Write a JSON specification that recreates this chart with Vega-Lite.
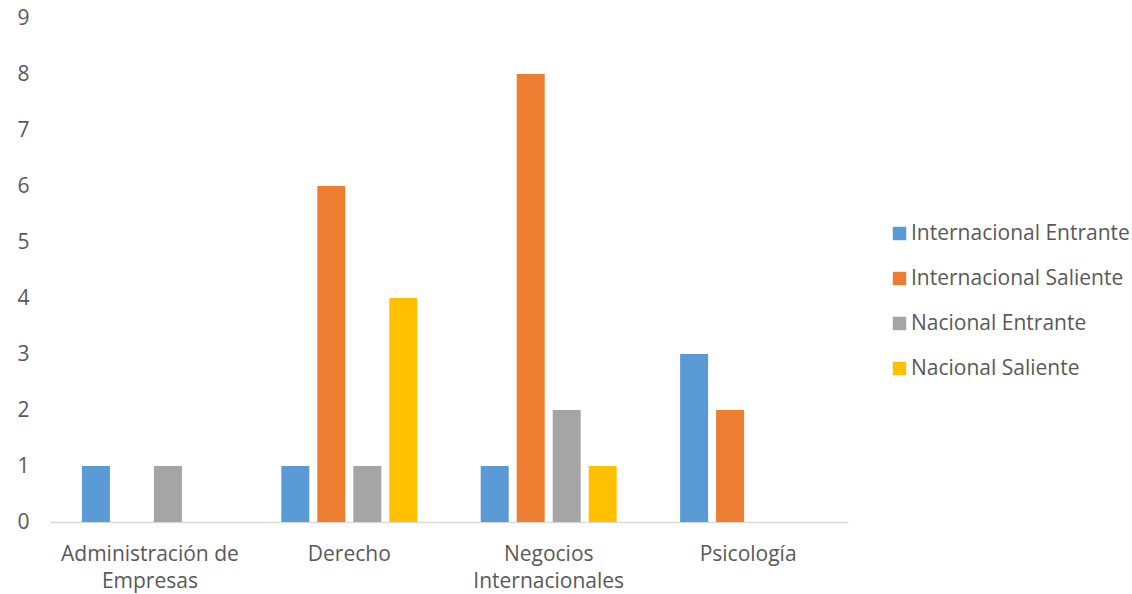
{
  "$schema": "https://vega.github.io/schema/vega-lite/v6.json",
  "autosize": "none",
  "width": 798,
  "height": 504,
  "padding": {"left": 50, "top": 18, "right": 284, "bottom": 72},
  "background": "white",
  "config": {
    "view": {"stroke": null},
    "font": "Open Sans",
    "axis": {"labelFont": "Open Sans", "labelColor": "#595959", "labelFontSize": 21},
    "legend": {"labelFont": "Open Sans", "labelColor": "#595959", "labelFontSize": 21}
  },
  "data": {
    "values": [
      {"carrera": "Administración de Empresas", "tipo": "Internacional Entrante", "valor": 1},
      {"carrera": "Administración de Empresas", "tipo": "Internacional Saliente", "valor": 0},
      {"carrera": "Administración de Empresas", "tipo": "Nacional Entrante", "valor": 1},
      {"carrera": "Administración de Empresas", "tipo": "Nacional Saliente", "valor": 0},
      {"carrera": "Derecho", "tipo": "Internacional Entrante", "valor": 1},
      {"carrera": "Derecho", "tipo": "Internacional Saliente", "valor": 6},
      {"carrera": "Derecho", "tipo": "Nacional Entrante", "valor": 1},
      {"carrera": "Derecho", "tipo": "Nacional Saliente", "valor": 4},
      {"carrera": "Negocios Internacionales", "tipo": "Internacional Entrante", "valor": 1},
      {"carrera": "Negocios Internacionales", "tipo": "Internacional Saliente", "valor": 8},
      {"carrera": "Negocios Internacionales", "tipo": "Nacional Entrante", "valor": 2},
      {"carrera": "Negocios Internacionales", "tipo": "Nacional Saliente", "valor": 1},
      {"carrera": "Psicología", "tipo": "Internacional Entrante", "valor": 3},
      {"carrera": "Psicología", "tipo": "Internacional Saliente", "valor": 2},
      {"carrera": "Psicología", "tipo": "Nacional Entrante", "valor": 0},
      {"carrera": "Psicología", "tipo": "Nacional Saliente", "valor": 0}
    ]
  },
  "mark": {"type": "bar"},
  "encoding": {
    "x": {
      "field": "carrera",
      "type": "nominal",
      "sort": null,
      "title": null,
      "scale": {"paddingInner": 0.278, "paddingOuter": 0.14},
      "axis": {
        "labelAngle": 0,
        "ticks": false,
        "domainColor": "#d9d9d9",
        "domainWidth": 1.5,
        "labelPadding": 21,
        "labelLineHeight": 27,
        "labelBaseline": "top",
        "labelLimit": 300,
        "labelExpr": "datum.label == 'Administración de Empresas' ? ['Administración de', 'Empresas'] : datum.label == 'Negocios Internacionales' ? ['Negocios', 'Internacionales'] : datum.label"
      }
    },
    "xOffset": {
      "field": "tipo",
      "type": "nominal",
      "scale": {"paddingInner": 0.2222, "paddingOuter": 0.1111}
    },
    "y": {
      "field": "valor",
      "type": "quantitative",
      "title": null,
      "scale": {"domain": [0, 9]},
      "axis": {
        "values": [0, 1, 2, 3, 4, 5, 6, 7, 8, 9],
        "grid": false,
        "ticks": false,
        "domain": false,
        "labelPadding": 21
      }
    },
    "color": {
      "field": "tipo",
      "type": "nominal",
      "title": null,
      "scale": {
        "domain": ["Internacional Entrante", "Internacional Saliente", "Nacional Entrante", "Nacional Saliente"],
        "range": ["#5B9BD5", "#ED7D31", "#A5A5A5", "#FFC000"]
      },
      "legend": {
        "orient": "none",
        "legendX": 839,
        "legendY": 205,
        "symbolType": "square",
        "symbolSize": 180,
        "symbolStrokeWidth": 0,
        "labelOffset": 1,
        "rowPadding": 23,
        "labelLimit": 300,
        "labelFontSize": 21
      }
    }
  }
}
